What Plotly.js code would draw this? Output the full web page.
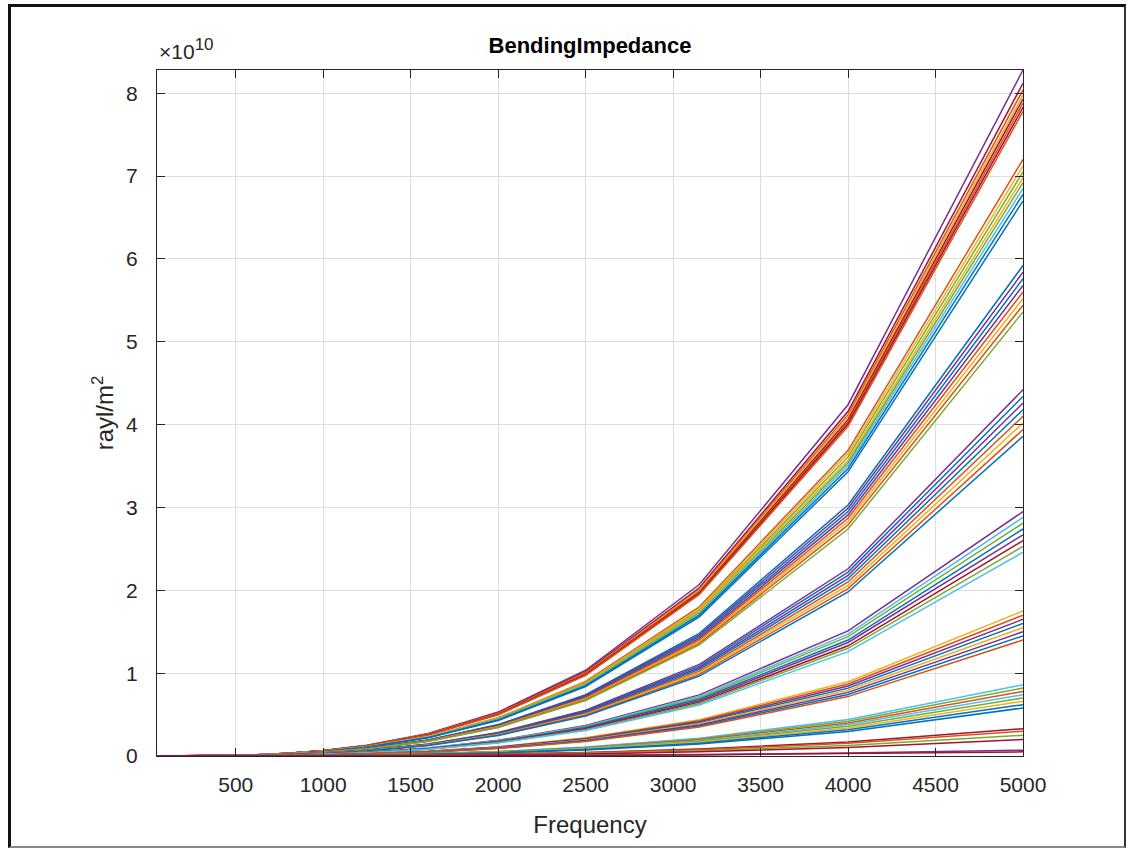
<!DOCTYPE html>
<html>
<head>
<meta charset="utf-8">
<script src="https://cdn.plot.ly/plotly-3.0.1.min.js"></script>
<style>
  html, body { margin: 0; padding: 0; background: #ffffff; }
  #chart { width: 1128px; height: 848px; position: absolute; left: 0; top: 0; }
  #frame { position: absolute; left: 8px; top: 4px; width: 1113px; height: 839px;
           border-top: 3px solid #111; border-left: 3px solid #111;
           border-right: 2px solid #333; border-bottom: 2px solid #888; pointer-events: none; }
</style>
</head>
<body>
<div id="chart"></div>
<div id="frame"></div>
<script>
// Third-octave band centre frequencies (Hz)
const freq = [50, 63, 80, 100, 125, 160, 200, 250, 315, 400, 500, 630, 800, 1000, 1250, 1600, 2000, 2500, 3150, 4000, 5000];

// Bending impedance values, in units of 1e10 rayl/m^2 (one array per curve)
const Y_UNIT = 1e10;

const group1 = [
  [0,0,0,0,0,0,0.001,0.001,0.002,0.004,0.008,0.017,0.034,0.066,0.129,0.272,0.530,1.035,2.07,4.24,8.28],
  [0,0,0,0,0,0,0.001,0.001,0.002,0.004,0.008,0.016,0.033,0.065,0.127,0.266,0.520,1.015,2.03,4.16,8.12],
  [0,0,0,0,0,0,0.001,0.001,0.002,0.004,0.008,0.016,0.033,0.064,0.125,0.264,0.515,1.005,2.01,4.12,8.04],
  [0,0,0,0,0,0,0.001,0.001,0.002,0.004,0.008,0.016,0.033,0.064,0.124,0.262,0.511,0.998,2.00,4.09,7.98],
  [0,0,0,0,0,0,0.001,0.001,0.002,0.004,0.008,0.016,0.033,0.063,0.124,0.260,0.508,0.991,1.98,4.06,7.93],
  [0,0,0,0,0,0,0.001,0.001,0.002,0.004,0.008,0.016,0.032,0.063,0.123,0.258,0.504,0.985,1.97,4.03,7.88],
  [0,0,0,0,0,0,0.001,0.001,0.002,0.004,0.008,0.016,0.032,0.063,0.122,0.257,0.501,0.979,1.96,4.01,7.83],
  [0,0,0,0,0,0,0.000,0.001,0.002,0.004,0.008,0.016,0.032,0.062,0.121,0.255,0.498,0.973,1.95,3.98,7.78]
];
const group2 = [
  [0,0,0,0,0,0,0.000,0.001,0.002,0.004,0.007,0.014,0.030,0.058,0.112,0.236,0.461,0.900,1.80,3.69,7.20],
  [0,0,0,0,0,0,0.000,0.001,0.002,0.004,0.007,0.014,0.029,0.057,0.111,0.234,0.456,0.890,1.78,3.65,7.12],
  [0,0,0,0,0,0,0.000,0.001,0.002,0.004,0.007,0.014,0.029,0.056,0.110,0.231,0.451,0.881,1.76,3.61,7.05],
  [0,0,0,0,0,0,0.000,0.001,0.002,0.004,0.007,0.014,0.029,0.056,0.109,0.229,0.447,0.873,1.75,3.57,6.98],
  [0,0,0,0,0,0,0.000,0.001,0.002,0.004,0.007,0.014,0.028,0.055,0.108,0.227,0.443,0.865,1.73,3.54,6.92],
  [0,0,0,0,0,0,0.000,0.001,0.002,0.004,0.007,0.014,0.028,0.055,0.107,0.225,0.438,0.856,1.71,3.51,6.85],
  [0,0,0,0,0,0,0.000,0.001,0.002,0.003,0.007,0.014,0.028,0.054,0.106,0.222,0.434,0.848,1.70,3.47,6.78],
  [0,0,0,0,0,0,0.000,0.001,0.002,0.003,0.007,0.013,0.027,0.054,0.105,0.220,0.429,0.838,1.68,3.43,6.70]
];
const group3 = [
  [0,0,0,0,0,0,0.000,0.001,0.001,0.003,0.006,0.012,0.024,0.047,0.092,0.194,0.379,0.740,1.48,3.03,5.92],
  [0,0,0,0,0,0,0.000,0.001,0.001,0.003,0.006,0.012,0.024,0.047,0.091,0.192,0.374,0.730,1.46,2.99,5.84],
  [0,0,0,0,0,0,0.000,0.001,0.001,0.003,0.006,0.012,0.024,0.046,0.090,0.189,0.369,0.720,1.44,2.95,5.76],
  [0,0,0,0,0,0,0.000,0.001,0.001,0.003,0.006,0.011,0.023,0.045,0.089,0.186,0.364,0.710,1.42,2.91,5.68],
  [0,0,0,0,0,0,0.000,0.001,0.001,0.003,0.006,0.011,0.023,0.045,0.087,0.184,0.358,0.700,1.40,2.87,5.60],
  [0,0,0,0,0,0,0.000,0.001,0.001,0.003,0.006,0.011,0.023,0.044,0.086,0.181,0.353,0.690,1.38,2.83,5.52],
  [0,0,0,0,0,0,0.000,0.001,0.001,0.003,0.005,0.011,0.022,0.044,0.085,0.178,0.348,0.680,1.36,2.79,5.44],
  [0,0,0,0,0,0,0.000,0.001,0.001,0.003,0.005,0.011,0.022,0.043,0.084,0.176,0.343,0.670,1.34,2.74,5.36]
];
const group4 = [
  [0,0,0,0,0,0,0.000,0.001,0.001,0.002,0.004,0.009,0.018,0.035,0.069,0.145,0.283,0.553,1.105,2.26,4.42],
  [0,0,0,0,0,0,0.000,0.001,0.001,0.002,0.004,0.009,0.018,0.035,0.068,0.142,0.278,0.543,1.085,2.22,4.34],
  [0,0,0,0,0,0,0.000,0.001,0.001,0.002,0.004,0.009,0.017,0.034,0.066,0.140,0.273,0.533,1.065,2.18,4.26],
  [0,0,0,0,0,0,0.000,0.001,0.001,0.002,0.004,0.008,0.017,0.033,0.065,0.137,0.268,0.523,1.045,2.14,4.18],
  [0,0,0,0,0,0,0.000,0.001,0.001,0.002,0.004,0.008,0.017,0.033,0.064,0.134,0.262,0.513,1.025,2.10,4.10],
  [0,0,0,0,0,0,0.000,0.001,0.001,0.002,0.004,0.008,0.016,0.032,0.063,0.132,0.257,0.503,1.005,2.06,4.02],
  [0,0,0,0,0,0,0.000,0.000,0.001,0.002,0.004,0.008,0.016,0.032,0.061,0.129,0.252,0.493,0.985,2.02,3.94],
  [0,0,0,0,0,0,0.000,0.000,0.001,0.002,0.004,0.008,0.016,0.031,0.060,0.127,0.247,0.483,0.965,1.98,3.86]
];
const group5 = [
  [0,0,0,0,0,0,0.000,0.000,0.001,0.002,0.003,0.006,0.012,0.024,0.046,0.097,0.189,0.369,0.738,1.51,2.95],
  [0,0,0,0,0,0,0.000,0.000,0.001,0.001,0.003,0.006,0.012,0.023,0.045,0.094,0.184,0.360,0.720,1.47,2.88],
  [0,0,0,0,0,0,0.000,0.000,0.001,0.001,0.003,0.006,0.012,0.022,0.044,0.092,0.180,0.351,0.703,1.44,2.81],
  [0,0,0,0,0,0,0.000,0.000,0.001,0.001,0.003,0.005,0.011,0.022,0.043,0.090,0.175,0.343,0.685,1.40,2.74],
  [0,0,0,0,0,0,0.000,0.000,0.001,0.001,0.003,0.005,0.011,0.021,0.042,0.088,0.171,0.334,0.668,1.37,2.67],
  [0,0,0,0,0,0,0.000,0.000,0.001,0.001,0.003,0.005,0.011,0.021,0.041,0.085,0.166,0.325,0.650,1.33,2.60],
  [0,0,0,0,0,0,0.000,0.000,0.001,0.001,0.003,0.005,0.010,0.020,0.039,0.083,0.162,0.316,0.633,1.30,2.53],
  [0,0,0,0,0,0,0.000,0.000,0.001,0.001,0.002,0.005,0.010,0.020,0.038,0.081,0.157,0.308,0.615,1.26,2.46]
];
const group6 = [
  [0,0,0,0,0,0,0.000,0.000,0.000,0.001,0.002,0.004,0.007,0.014,0.027,0.057,0.112,0.219,0.438,0.896,1.75],
  [0,0,0,0,0,0,0.000,0.000,0.000,0.001,0.002,0.003,0.007,0.014,0.027,0.056,0.109,0.213,0.425,0.870,1.70],
  [0,0,0,0,0,0,0.000,0.000,0.000,0.001,0.002,0.003,0.007,0.013,0.026,0.054,0.106,0.206,0.413,0.845,1.65],
  [0,0,0,0,0,0,0.000,0.000,0.000,0.001,0.002,0.003,0.007,0.013,0.025,0.052,0.102,0.200,0.400,0.819,1.60],
  [0,0,0,0,0,0,0.000,0.000,0.000,0.001,0.002,0.003,0.006,0.012,0.024,0.051,0.099,0.194,0.388,0.794,1.55],
  [0,0,0,0,0,0,0.000,0.000,0.000,0.001,0.002,0.003,0.006,0.012,0.023,0.049,0.096,0.188,0.375,0.768,1.50],
  [0,0,0,0,0,0,0.000,0.000,0.000,0.001,0.001,0.003,0.006,0.012,0.023,0.048,0.093,0.181,0.363,0.742,1.45],
  [0,0,0,0,0,0,0.000,0.000,0.000,0.001,0.001,0.003,0.006,0.011,0.022,0.046,0.090,0.175,0.350,0.717,1.40]
];
const group7 = [
  [0,0,0,0,0,0,0.000,0.000,0.000,0.000,0.001,0.002,0.004,0.007,0.013,0.028,0.055,0.108,0.215,0.440,0.86],
  [0,0,0,0,0,0,0.000,0.000,0.000,0.000,0.001,0.002,0.003,0.007,0.013,0.027,0.052,0.103,0.205,0.420,0.82],
  [0,0,0,0,0,0,0.000,0.000,0.000,0.000,0.001,0.002,0.003,0.006,0.012,0.026,0.050,0.098,0.195,0.399,0.78],
  [0,0,0,0,0,0,0.000,0.000,0.000,0.000,0.001,0.001,0.003,0.006,0.012,0.024,0.047,0.093,0.185,0.379,0.74],
  [0,0,0,0,0,0,0.000,0.000,0.000,0.000,0.001,0.001,0.003,0.006,0.011,0.023,0.045,0.088,0.175,0.358,0.70],
  [0,0,0,0,0,0,0.000,0.000,0.000,0.000,0.001,0.001,0.003,0.005,0.010,0.022,0.042,0.083,0.165,0.338,0.66],
  [0,0,0,0,0,0,0.000,0.000,0.000,0.000,0.001,0.001,0.003,0.005,0.010,0.020,0.040,0.078,0.155,0.317,0.62],
  [0,0,0,0,0,0,0.000,0.000,0.000,0.000,0.001,0.001,0.002,0.005,0.009,0.019,0.037,0.073,0.145,0.297,0.58]
];
const group8 = [
  [0,0,0,0,0,0,0.000,0.000,0.000,0.000,0.000,0.001,0.001,0.003,0.005,0.011,0.021,0.041,0.083,0.169,0.33],
  [0,0,0,0,0,0,0.000,0.000,0.000,0.000,0.000,0.001,0.001,0.002,0.005,0.010,0.019,0.038,0.075,0.154,0.30],
  [0,0,0,0,0,0,0.000,0.000,0.000,0.000,0.000,0.000,0.001,0.002,0.004,0.008,0.016,0.031,0.063,0.128,0.25],
  [0,0,0,0,0,0,0.000,0.000,0.000,0.000,0.000,0.000,0.001,0.002,0.003,0.007,0.013,0.025,0.050,0.102,0.20]
];
const group9 = [
  [0,0,0,0,0,0,0.000,0.000,0.000,0.000,0.000,0.000,0.000,0.001,0.001,0.002,0.004,0.009,0.018,0.036,0.07],
  [0,0,0,0,0,0,0.000,0.000,0.000,0.000,0.000,0.000,0.000,0.001,0.001,0.002,0.003,0.006,0.013,0.026,0.05]
];

const groups = [group1, group2, group3, group4, group5, group6, group7, group8, group9];

// Axis tick values / labels
const xTicks = [500, 1000, 1500, 2000, 2500, 3000, 3500, 4000, 4500, 5000];
const yTicks = [0, 1, 2, 3, 4, 5, 6, 7, 8];

// Styling (MATLAB default colour order) and per-group colour picks
const PALETTE = ['#0072BD', '#D95319', '#EDB120', '#7E2F8E', '#77AC30', '#4DBEEE', '#A2142F'];
const groupColors = [
  [3, 6, 1, 2, 6, 1, 6, 1],
  [1, 2, 4, 2, 4, 5, 0, 0],
  [0, 3, 0, 3, 1, 2, 1, 4],
  [3, 0, 3, 0, 1, 2, 1, 0],
  [3, 5, 4, 0, 3, 6, 4, 5],
  [2, 1, 3, 0, 2, 3, 0, 1],
  [5, 4, 1, 5, 4, 2, 0, 0],
  [6, 1, 4, 6],
  [3, 6]
];

const traces = [];
groups.forEach((g, gi) => {
  g.forEach((vals, si) => {
    traces.push({
      type: 'scatter',
      mode: 'lines',
      x: freq,
      y: vals.map(v => v * Y_UNIT),
      line: { color: PALETTE[groupColors[gi][si]], width: 1.5 },
      hoverinfo: 'x+y',
      showlegend: false
    });
  });
});

const FONT = 'Liberation Sans, Arial, Helvetica, sans-serif';
const AX = '#262626';

const layout = {
  width: 1128,
  height: 848,
  paper_bgcolor: '#ffffff',
  plot_bgcolor: '#ffffff',
  margin: { l: 157, r: 105, t: 70, b: 92 },
  font: { family: FONT, color: AX, size: 21 },
  title: {
    text: '<b>BendingImpedance</b>',
    font: { family: FONT, size: 22, color: '#000000' },
    x: 0.5, xref: 'paper', xanchor: 'center',
    y: 1 - 45 / 848, yref: 'container', yanchor: 'middle'
  },
  xaxis: {
    range: [50, 5000],
    tickvals: xTicks,
    ticktext: xTicks.map(String),
    ticks: 'inside', ticklen: 8, tickcolor: AX, tickwidth: 1,
    showline: true, linecolor: AX, linewidth: 1, mirror: 'allticks',
    showgrid: true, gridcolor: '#dedede', gridwidth: 1,
    zeroline: false,
    tickfont: { family: FONT, size: 21, color: AX },
    ticklabelstandoff: 10,
    title: { text: 'Frequency', font: { family: FONT, size: 24, color: AX }, standoff: 20 }
  },
  yaxis: {
    range: [0, 8.28 * Y_UNIT],
    tickvals: yTicks.map(v => v * Y_UNIT),
    ticktext: yTicks.map(String),
    ticks: 'inside', ticklen: 8, tickcolor: AX, tickwidth: 1,
    showline: true, linecolor: AX, linewidth: 1, mirror: 'allticks',
    showgrid: true, gridcolor: '#dedede', gridwidth: 1,
    zeroline: false,
    tickfont: { family: FONT, size: 21, color: AX },
    ticklabelstandoff: 14,
    title: { text: 'rayl/m<sup>2</sup>', font: { family: FONT, size: 24, color: AX }, standoff: 5 }
  },
  annotations: [{
    text: '×10<sup><span style="font-size:17px">10</span></sup>',
    xref: 'paper', yref: 'paper',
    x: 0, y: 1, xanchor: 'left', yanchor: 'bottom', yshift: 5,
    showarrow: false,
    font: { family: FONT, size: 21, color: AX }
  }]
};

Plotly.newPlot('chart', traces, layout, { displayModeBar: false, staticPlot: true });
</script>
</body>
</html>
